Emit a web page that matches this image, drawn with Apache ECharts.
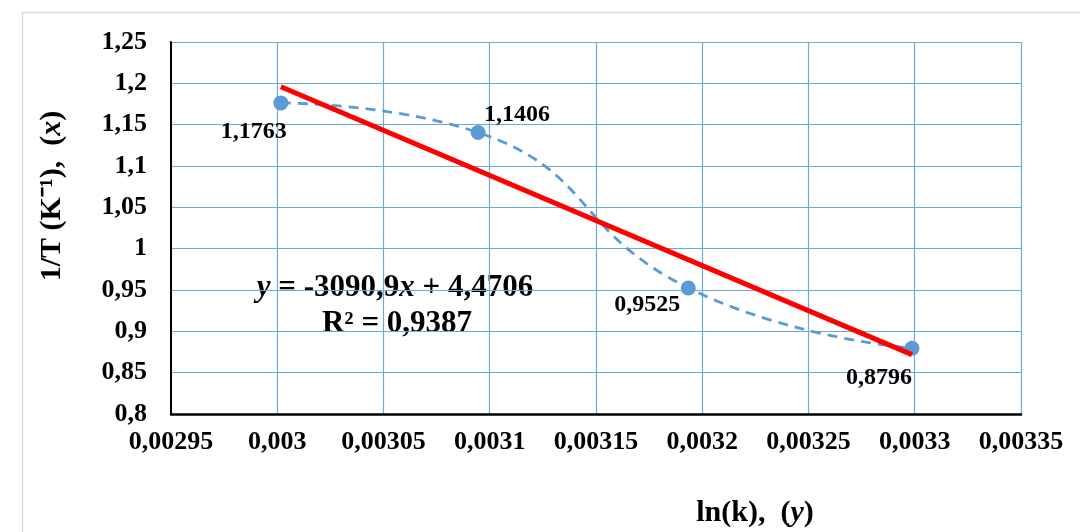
<!DOCTYPE html>
<html>
<head>
<meta charset="utf-8">
<script src="https://cdn.jsdelivr.net/npm/echarts@6/dist/echarts.min.js"></script>
<style>
  html, body { margin: 0; padding: 0; background: #fff; }
  #chart { width: 1080px; height: 532px; }
</style>
</head>
<body>
<div id="chart"></div>
<script>
// Measured points: x = 1/T, y = value shown next to each point
const xValues = [0.0030017, 0.0030945, 0.0031934, 0.0032987];
const yValues = [1.1763, 1.1406, 0.9525, 0.8796];
const pointLabels = ['1,1763', '1,1406', '0,9525', '0,8796'];
// Offsets of each value label from its point (px)
const labelOffsets = [[-27, 29], [39, -18], [-41, 17], [-33, 30]];

// Axis ranges and ticks
const xMin = 0.00295, xMax = 0.00335, xStep = 0.00005;
const yMin = 0.8, yMax = 1.25, yStep = 0.05;

// Texts
const equationText = '{i|y}{b| = -3090,9}{i|x}{b| + 4,4706}';
const r2Text = 'R² = 0,9387';
const xTitle = '{b|ln(k),  (}{i|y}{b|)}';
const yTitle = '{b|1/T (K⁻¹),  (}{i|x}{b|)}';

// Least-squares trendline over the measured points
function linearFit(xs, ys) {
  const n = xs.length;
  const mx = xs.reduce((a, b) => a + b, 0) / n;
  const my = ys.reduce((a, b) => a + b, 0) / n;
  let sxy = 0, sxx = 0;
  for (let i = 0; i < n; i++) {
    sxy += (xs[i] - mx) * (ys[i] - my);
    sxx += (xs[i] - mx) * (xs[i] - mx);
  }
  const slope = sxy / sxx;
  return { slope, intercept: my - slope * mx };
}
const fit = linearFit(xValues, yValues);
const xFirst = xValues[0], xLast = xValues[xValues.length - 1];
const trendData = [
  [xFirst, fit.slope * xFirst + fit.intercept],
  [xLast, fit.slope * xLast + fit.intercept]
];

const FONT = '"Liberation Serif", "Times New Roman", serif';
const BLUE = '#5b9bd5';
const GRID = '#6fa8dc';
const comma = (v, d) => String(+v.toFixed(d)).replace('.', ',');

const richStyles = (size) => ({
  b: { fontFamily: FONT, fontWeight: 'bold', fontSize: size, fill: '#000', color: '#000' },
  i: { fontFamily: FONT, fontWeight: 'bold', fontStyle: 'italic', fontSize: size, fill: '#000', color: '#000' }
});

const chart = echarts.init(document.getElementById('chart'), null, { renderer: 'canvas' });

chart.setOption({
  animation: false,
  backgroundColor: '#ffffff',
  grid: { left: 171, right: 59, top: 42, bottom: 118, containLabel: false },
  xAxis: {
    type: 'value',
    min: xMin, max: xMax, interval: xStep,
    axisLine: { show: true, onZero: false, lineStyle: { color: '#000', width: 2.5 } },
    axisTick: { show: false },
    splitLine: { show: true, lineStyle: { color: GRID, width: 1.2 } },
    axisLabel: {
      margin: 15,
      fontFamily: FONT, fontWeight: 'bold', fontSize: 26, color: '#000',
      formatter: v => comma(v, 5)
    }
  },
  yAxis: {
    type: 'value',
    min: yMin, max: yMax, interval: yStep,
    axisLine: { show: true, onZero: false, lineStyle: { color: '#000', width: 2 } },
    axisTick: { show: false },
    splitLine: { show: true, lineStyle: { color: GRID, width: 1.2 } },
    axisLabel: {
      margin: 24,
      fontFamily: FONT, fontWeight: 'bold', fontSize: 26, color: '#000',
      formatter: v => comma(v, 2)
    }
  },
  series: [
    {
      type: 'line',
      name: 'points',
      data: xValues.map((x, i) => ({
        value: [x, yValues[i]],
        label: {
          show: true,
          position: 'inside',
          offset: labelOffsets[i],
          formatter: pointLabels[i],
          fontFamily: FONT, fontWeight: 'bold', fontSize: 24, color: '#000'
        }
      })),
      smooth: 0.5,
      symbol: 'circle',
      symbolSize: 15,
      itemStyle: { color: BLUE },
      lineStyle: { color: BLUE, width: 2.8, type: [10, 7] },
      z: 3
    },
    {
      type: 'line',
      name: 'trend',
      data: trendData,
      symbol: 'none',
      lineStyle: { color: '#ff0000', width: 5 },
      z: 4
    }
  ],
  graphic: [
    {
      type: 'rect',
      shape: { x: 22.5, y: 12.5, width: 1200, height: 700 },
      style: { fill: 'none', stroke: '#d9d9d9', lineWidth: 1.5 },
      silent: true, z: -1
    },
    {
      type: 'text',
      x: 395, y: 288,
      style: {
        text: equationText, rich: richStyles(31),
        align: 'center', verticalAlign: 'middle'
      }
    },
    {
      type: 'text',
      x: 397, y: 324,
      style: {
        text: r2Text, fontFamily: FONT, fontWeight: 'bold', fontSize: 31, fill: '#000',
        align: 'center', verticalAlign: 'middle'
      }
    },
    {
      type: 'text',
      x: 755, y: 513,
      style: {
        text: xTitle, rich: richStyles(30),
        align: 'center', verticalAlign: 'middle'
      }
    },
    {
      type: 'text',
      x: 52, y: 196,
      rotation: Math.PI / 2,
      style: {
        text: yTitle, rich: richStyles(30),
        align: 'center', verticalAlign: 'middle'
      }
    }
  ]
});
</script>
</body>
</html>
